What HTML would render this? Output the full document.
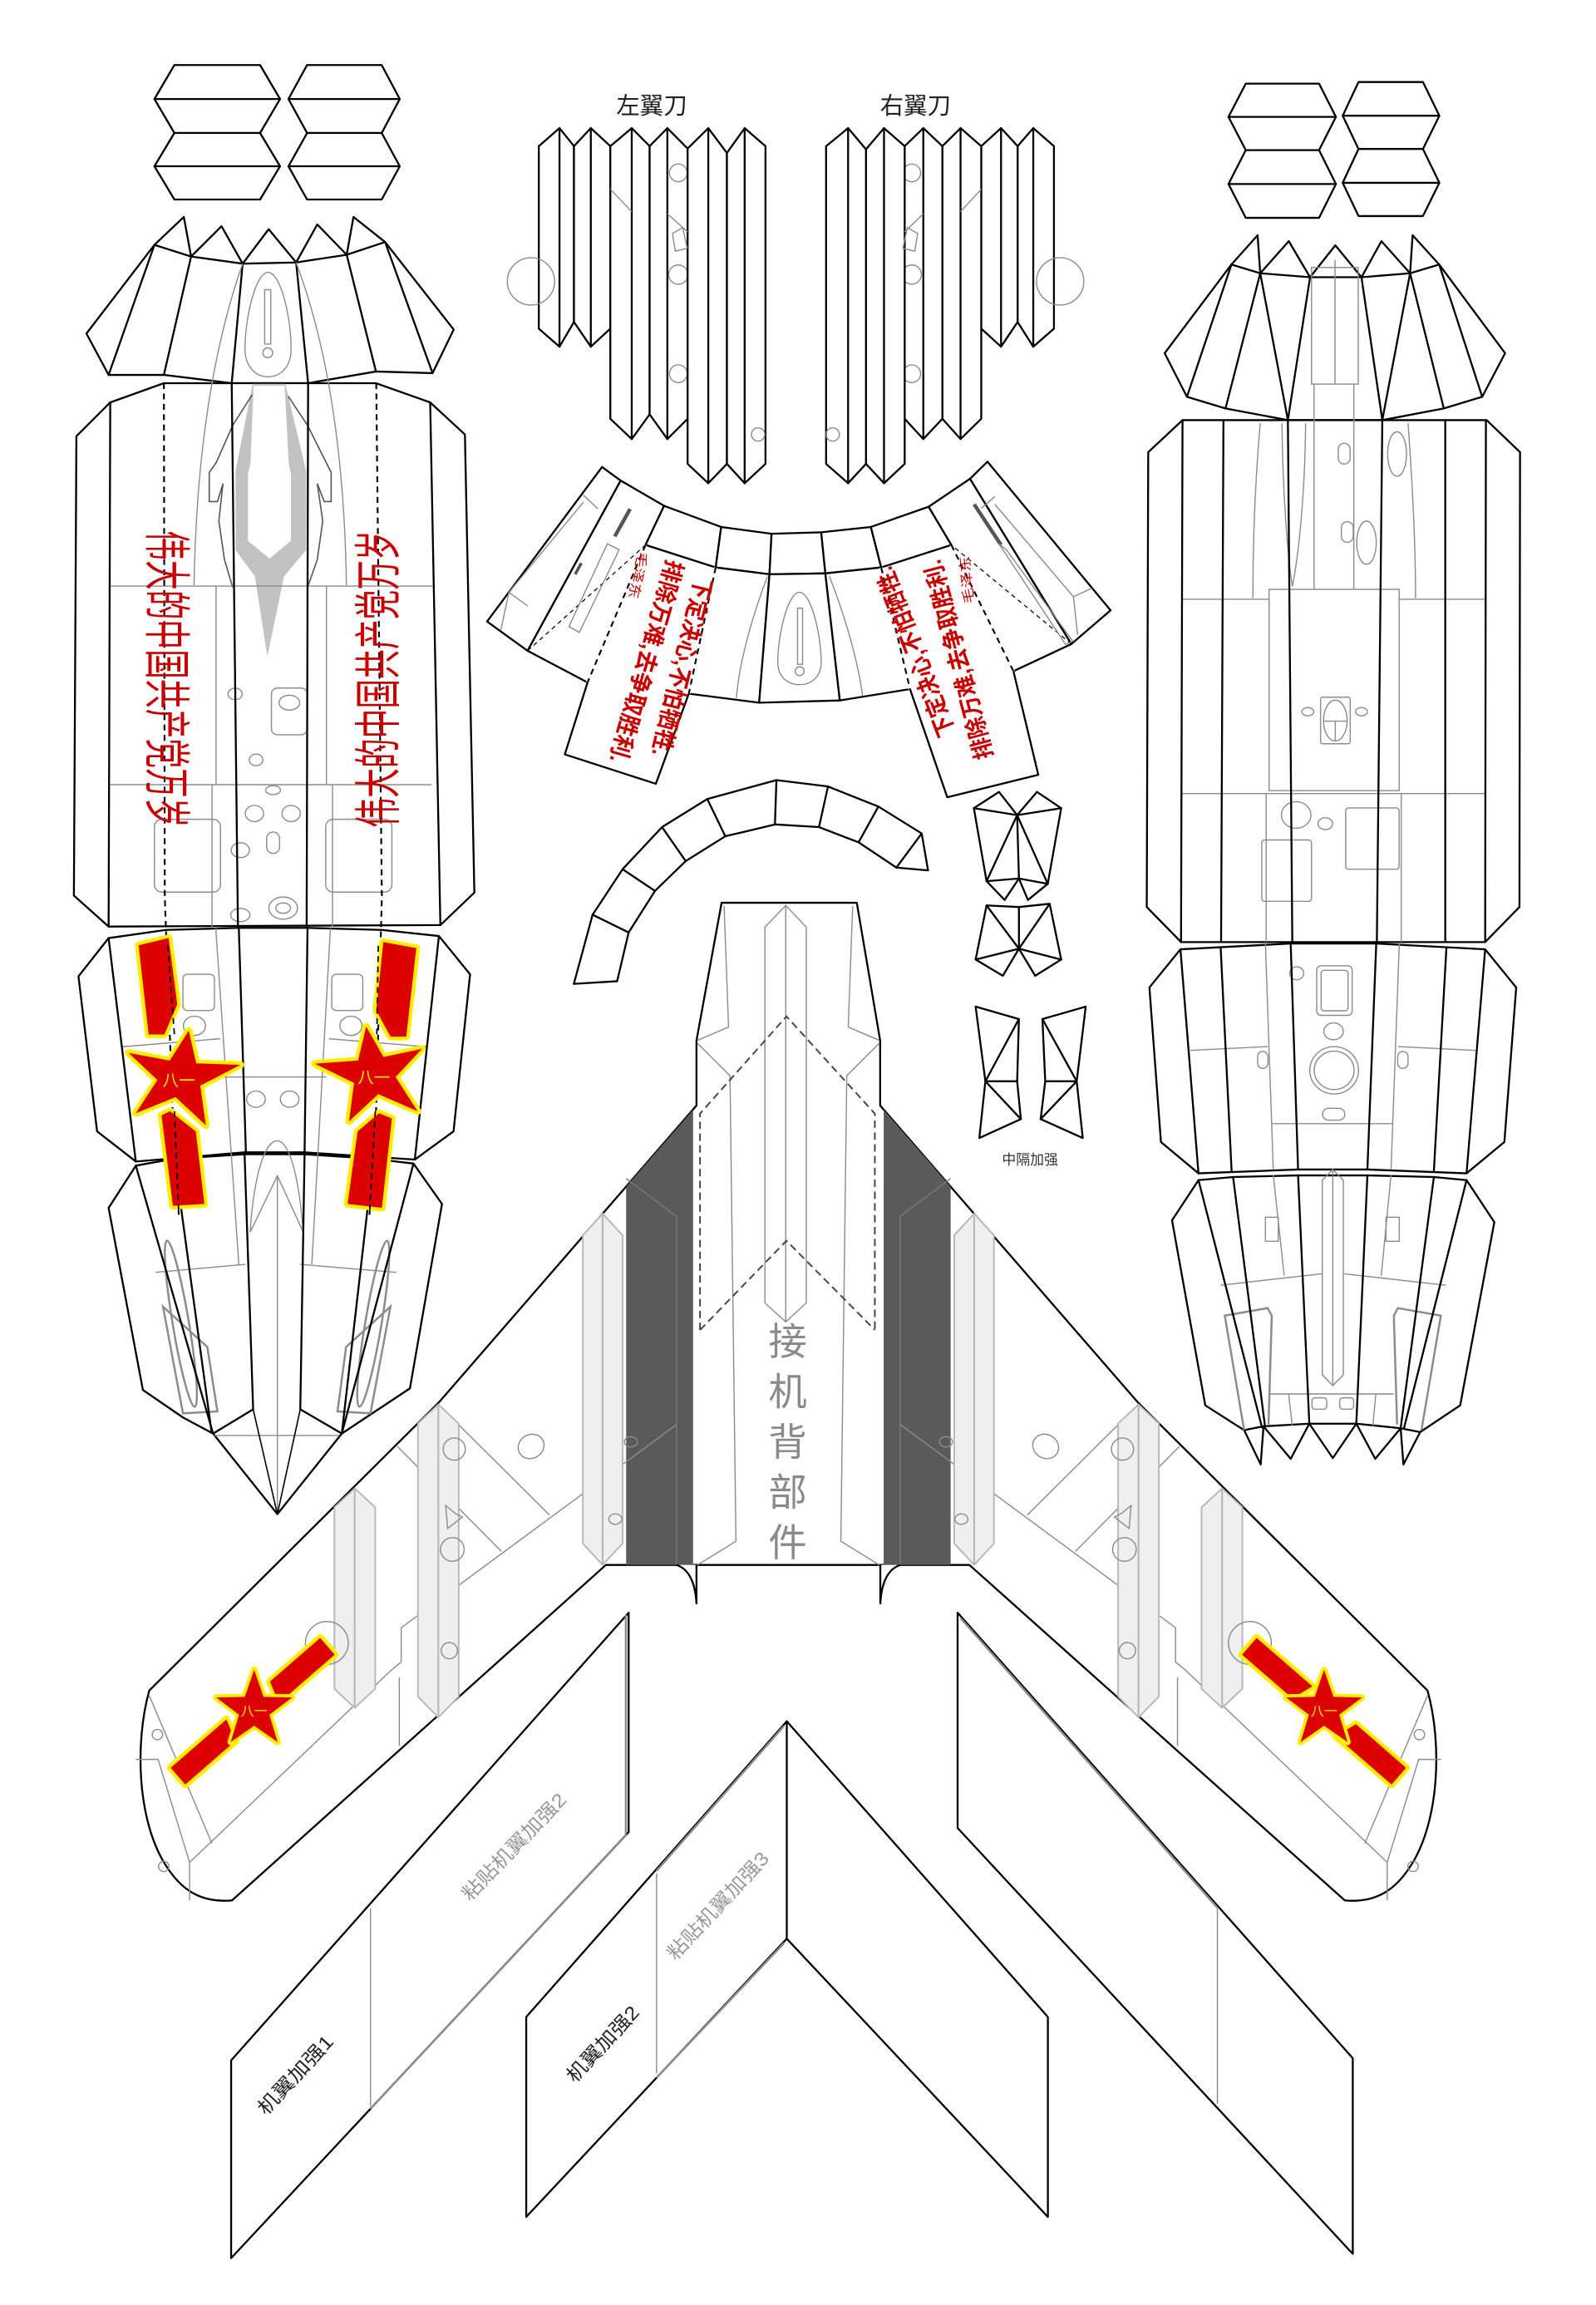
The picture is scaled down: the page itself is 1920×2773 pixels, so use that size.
<!DOCTYPE html>
<html><head><meta charset="utf-8">
<style>
html,body{margin:0;padding:0;background:#fff;width:1920px;height:2773px;overflow:hidden}
svg{display:block}
.k{fill:#fff;stroke:#000;stroke-width:1.3;stroke-linejoin:round}
.l{fill:none;stroke:#000;stroke-width:1.3;stroke-linecap:round}
.t{fill:none;stroke:#000;stroke-width:0.9}
.g{fill:none;stroke:#8c8c8c;stroke-width:0.8}
.g2{fill:none;stroke:#8c8c8c;stroke-width:1.4}
.dg{fill:none;stroke:#555;stroke-width:0.9}
.d{fill:none;stroke:#000;stroke-width:1.2;stroke-dasharray:4 3}
.dt{fill:none;stroke:#000;stroke-width:0.7;stroke-dasharray:3 2.5}
.wl{fill:none;stroke:#fff;stroke-width:2.2}
.ls{fill:#efefef;stroke:#b8b8b8;stroke-width:1.1}
.red{fill:#dd0000;stroke:#ffee00;stroke-width:5;paint-order:stroke;stroke-linejoin:round}
.cn{font-family:"Liberation Sans","Noto Sans CJK SC","WenQuanYi Zen Hei",sans-serif}
.rt{fill:#c80000}
</style></head><body>
<svg width="1920" height="2773" viewBox="0 0 1080 1559.8" xmlns="http://www.w3.org/2000/svg">
<rect x="0" y="0" width="1080" height="1560" fill="#fff"/>

<!-- ===== LEFT FUSELAGE (top view) ===== -->
<g>
<polygon class="k" points="118,44 176,44 189.5,67 176,90 118,90 104.5,67"/>
<line class="l" x1="104.5" y1="67" x2="189.5" y2="67"/>
<polygon class="k" points="118,90 176,90 189.5,112.5 176,135 118,135 104.5,112.5"/>
<line class="l" x1="104.5" y1="112.5" x2="189.5" y2="112.5"/>
<polygon class="k" points="207.8,44 258.3,44 270.5,67 258.3,90 207.8,90 195.2,67"/>
<line class="l" x1="195.2" y1="67" x2="270.5" y2="67"/>
<polygon class="k" points="207.8,90 258.3,90 270.5,112.5 258.3,135 207.8,135 195.2,112.5"/>
<line class="l" x1="195.2" y1="112.5" x2="270.5" y2="112.5"/>
</g>
<polygon class="k" points="58.5,225.7 104.5,165.7 124.4,146.8 129.3,173.6 149.9,153.1 164.2,178.4 181.8,155.1 200.4,177.6 214.7,151.9 234.6,172.4 239.2,146.8 260.6,163.8 307,223 292.7,252.5 254.4,251.4 208.5,259.3 156.8,259.3 110.9,253.7 73.5,253.7"/>
<polyline class="l" points="104.5,165.7 129.3,173.6 164.2,178.4 200.4,177.6 234.6,172.4 260.6,163.8"/>
<path class="l" d="M104.5,165.7L73.5,253.7M129.3,173.6L110.9,253.7M164.2,178.4L156.8,259.3M200.4,177.6L208.5,259.3M234.6,172.4L254.4,251.4M260.6,163.8L292.7,252.5"/>
<polygon class="k" points="74.6,272.3 110.9,259.3 156.8,259.3 208.5,259.3 254.4,259.3 291.1,272.3 314.6,294 321,604 298,626 73.5,627 50,606 51.7,295.2"/>
<path class="g" d="M164.2,178.4C146,230 133,300 131.3,396M200.4,177.6C220,230 233,300 234.4,396"/>
<path class="g" d="M181.4,184.3C190,184.3 197,215 197,236C197,248 190,255 181.4,255C173,255 165.8,248 165.8,236C165.8,215 173,184.3 181.4,184.3Z"/>
<rect class="g" x="179.1" y="196" width="4.1" height="36.8"/>
<circle class="g" cx="181.2" cy="238.7" r="3.3"/>
<polygon fill="#c2c2c2" points="171,259.7 193.1,259.7 207.2,318.75 207.2,372.2 192.2,390 180.9,444.4 172.5,390 159.4,372.2 159.4,318.75"/>
<polygon fill="#fff" points="171.6,261 192.6,261 195.4,313.5 196.9,321 196.9,366 182.3,378 167.8,366 167.8,321 169.5,313.5"/>
<polyline class="dg" points="170.6,267.2 157.5,287.8 146.3,313.1 141.6,319.7 141.6,339.4 147.2,339.4 150.9,327.2 148.1,352.5 151.9,378.75 157.5,397.5"/>
<polyline class="dg" points="195,268.1 208.1,287.8 224.1,319.7 224.1,339.4 219.4,339.4 214.7,327.2 218.4,352.5 214.7,378.75 208.1,397.5"/>
<path class="g" d="M74,396.6H292.7M74.5,531H292M146.2,396.6V531M220.9,396.6V531M143.5,531V627M225,531V627"/>
<ellipse class="g" cx="159.1" cy="469.6" rx="4.8" ry="3.9"/>
<rect class="g" x="183.7" y="465.6" width="24.1" height="31.6" rx="4"/>
<ellipse class="g" cx="195.8" cy="475.5" rx="7" ry="5"/>
<ellipse class="g" cx="173.3" cy="514.2" rx="4.6" ry="3.9"/>
<ellipse class="g" cx="184.8" cy="534.7" rx="5" ry="3"/>
<ellipse class="g" cx="172.2" cy="550.5" rx="6.2" ry="5.5"/>
<ellipse class="g" cx="197" cy="550.5" rx="6.2" ry="5.5"/>
<rect class="g" x="180.4" y="563" width="8.8" height="14.5" rx="4.4"/>
<ellipse class="g" cx="162.6" cy="575.3" rx="6.2" ry="5"/>
<rect class="g" x="104.5" y="554.4" width="44.7" height="49.3" rx="5"/>
<rect class="g" x="220.4" y="554.4" width="44.8" height="49.3" rx="5"/>
<ellipse class="g" cx="162.6" cy="619.2" rx="6.5" ry="4.5"/>
<ellipse class="g" cx="191.6" cy="614.5" rx="9.7" ry="7.5"/>
<ellipse class="g" cx="191.6" cy="614.5" rx="5" ry="3.5"/>
<path class="l" d="M74.6,272.3L73.5,627M156.8,259.3L161,627M208.5,259.3L207.5,627M291.1,272.3L298,626"/>

<polygon class="k" points="73.5,634.8 112.2,629.3 161.6,627.9 208.1,627.9 258.4,629.3 297,633.4 318.1,659.3 306.9,765.6 280.7,784.7 206.1,779.8 165.5,779.8 91.9,786 65.7,765.6 53.1,660.7"/>
<polygon class="k" points="91.9,788.8 118,784.1 165.5,781.1 206.1,781.1 252.6,784.1 279.8,787.4 299.1,814.7 277.4,939.5 231.3,970.1 187.7,1024.6 144.2,970.1 123.8,959.2 96.7,940.6 73.5,817.4"/>
<rect class="g" x="123.8" y="659.3" width="21.3" height="24.5" rx="3"/>
<rect class="g" x="224.5" y="659.3" width="21" height="24.5" rx="3"/>
<ellipse class="g" cx="131.6" cy="694.2" rx="7.5" ry="6.5"/>
<ellipse class="g" cx="237.5" cy="694.2" rx="7.5" ry="6.5"/>
<ellipse class="g" cx="173.2" cy="743.8" rx="6.3" ry="5.5"/>
<ellipse class="g" cx="196" cy="743.8" rx="6.3" ry="5.5"/>
<path class="g" d="M82.2,708.4L149,702.9M222.6,702.9L289.4,708.4M150,728.8H220.7M146,628L161.6,855.6M223.6,628L211,855.6M105.4,861L166,855.6M203,855.6L268.1,861"/>
<path class="g" d="M169.3,833.8C172,792 180,772 187.5,772C195,772 202,792 205.2,833.8"/>
<polyline class="g" points="169.3,833.8 187.7,795.6 205.2,833.8"/>
<path class="g" d="M187.7,795.6V1024.6M145,971.4H229.4"/>
<ellipse class="g2" cx="122.4" cy="895.8" rx="5.5" ry="57" transform="rotate(-9.5 122.4 895.8)"/>
<polygon class="g2" points="110.3,884.2 140.3,911.5 147.1,955.1 123.8,956.4"/>
<ellipse class="g2" cx="252.6" cy="895.8" rx="5.5" ry="57" transform="rotate(9.5 252.6 895.8)"/>
<polygon class="g2" points="264.2,884.2 234.2,911.5 228.4,955.1 250.7,956.4"/>
<path class="l" d="M73.5,634.8L91.9,786M161.6,627.9L166.4,779.8M208.1,627.9L206.1,779.8M297,633.4L280.7,784.7"/>
<path class="l" d="M91.9,788.8L144.2,970.1M118,784.1L143,968M165.5,781.1L171.3,953.7L144.2,970.1M206.1,781.1L203.2,953.7L231.3,970.1M252.6,784.1L231.3,970.1M279.8,787.4L231.3,970.1"/>
<path class="t" d="M171.3,953.7L187.7,1024.6M203.2,953.7L187.7,1024.6"/>
<polyline class="d" points="110.9,259.3 111.5,607 118,784 121,822"/>
<polyline class="d" points="254.6,259.3 258.4,607 253.6,784 250,822"/>
<text class="cn rt" font-size="32" textLength="201" lengthAdjust="spacingAndGlyphs" transform="translate(101.5,359) rotate(90)">伟大的中国共产党万岁</text>
<text class="cn rt" font-size="32" textLength="201" lengthAdjust="spacingAndGlyphs" transform="translate(267.2,560) rotate(-90)">伟大的中国共产党万岁</text>
<polygon class="red" points="93.8,639.7 114.1,634.8 120,679.7 111.2,700 100.6,700"/>
<polygon class="red" points="109.3,754.7 115.1,752 132.5,765.6 138.3,814.7 117,816"/>
<polygon class="red" points="127.7,697.5 132.8,719.6 162.6,720.6 135.5,734.7 139.3,761.5 118.8,742.4 91.9,753.3 106.5,730.8 87,712.5 114.9,717.7"/>
<text class="cn" font-size="11" fill="#ffee00" x="121" y="735" text-anchor="middle">八一</text>
<polygon class="red" points="259.4,637.5 281.7,641.6 274.9,701.5 264.3,701.5 254.6,683.8"/>
<polygon class="red" points="256.5,753.3 265.2,756.9 258.4,817.4 235.2,814.7 242,765.6"/>
<polygon class="red" points="247.8,694.7 259.5,715.3 285.6,709.7 267.7,728.8 282.6,752 256,740.4 236.2,758.8 239.6,732.8 213,719.8 242.3,717.7"/>
<text class="cn" font-size="11" fill="#ffee00" x="253" y="733" text-anchor="middle">八一</text>
<path class="d" d="M113.5,640L118,700M118,752L121,822M256,640L255,700M254,752L250,822" style="stroke-width:1"/>

<!-- ===== WING BLADES ===== -->
<text class="cn" font-size="16" x="441" y="77" text-anchor="middle" fill="#222">左翼刀</text>
<text class="cn" font-size="16" x="619.5" y="77" text-anchor="middle" fill="#222">右翼刀</text>
<g>
<polygon class="k" points="364.6,98.9 378.6,86.7 388.4,98.9 388.4,217.9 378.6,234.6 364.6,222.4"/>
<polygon class="k" points="388.4,98.9 399.8,86.7 413,98.9 413,222.4 399.8,234.6 388.4,217.9"/>
<polygon class="k" points="413,98.9 427.5,86.7 439.6,98.9 439.6,280.4 427.5,297.1 413,283.4"/>
<polygon class="k" points="439.6,98.9 451.6,86.7 465.3,100.5 465.3,283.4 451.6,297.1 439.6,280.4"/>
<circle class="g" cx="459" cy="117" r="6"/>
<circle class="g" cx="459" cy="185.8" r="6.5"/>
<circle class="g" cx="459" cy="252.9" r="6"/>
<polygon class="k" points="465.3,100.5 479.3,86.7 491.9,103.5 491.9,313.9 479.3,327 465.3,313.9"/>
<polygon class="k" points="491.9,103.5 503.9,86.7 518,98.9 518,313.9 503.9,327 491.9,313.9"/>
<path class="l" d="M378.6,86.7V234.6M399.8,86.7V234.6M427.5,86.7V297.1M451.6,86.7V297.1M479.3,86.7V327M503.9,86.7V327"/>
<circle class="g" cx="359.3" cy="190.4" r="16"/>
<circle class="g" cx="513" cy="294" r="4.5"/>
<path class="g" d="M413,128L427.5,143.2M451.6,144.7L465.3,156.9"/>
<polygon class="g" points="455,158 462,154 465,168 457,170"/>
</g>
<g>
<polygon class="k" points="688.6,98.9 699.2,86.7 713.2,98.9 713.2,222.4 699.2,234.6 688.6,217.9"/>
<polygon class="k" points="664,98.9 677.4,86.7 688.6,98.9 688.6,217.9 677.4,234.6 664,222.4"/>
<polygon class="k" points="637.7,98.9 650,86.7 664,98.9 664,283.4 650,297.1 637.7,283.4"/>
<polygon class="k" points="612.2,98.9 624.8,86.7 637.7,98.9 637.7,283.4 624.8,297.1 612.2,283.4"/>
<circle class="g" cx="617" cy="117" r="6"/>
<circle class="g" cx="617" cy="185.8" r="6.5"/>
<circle class="g" cx="617" cy="252.9" r="6"/>
<polygon class="k" points="586,101 598.2,86.7 612.2,98.9 612.2,313.9 598.2,327 586,313.9"/>
<polygon class="k" points="559,98.9 573.9,86.7 586,101 586,313.9 573.9,327 559,313.9"/>
<path class="l" d="M573.9,86.7V327M598.2,86.7V327M624.8,86.7V297.1M650,86.7V297.1M677.4,86.7V234.6M699.2,86.7V234.6"/>
<circle class="g" cx="717.4" cy="190.4" r="16"/>
<circle class="g" cx="563.5" cy="294" r="4.5"/>
<path class="g" d="M664,128L650,143.2M624.8,144.7L612.2,156.9"/>
<polygon class="g" points="621,158 614,154 611,168 619,170"/>
</g>

<!-- ===== CANOPY ARCH PIECE ===== -->
<g>
<polygon class="k" points="329.6,420.6 407.4,316 420,325.2 357,440.4"/>
<polygon class="k" points="357,440.4 420,325.2 449.4,342.3 436.8,368.8 397.6,461.8"/>
<polygon class="k" points="449.4,342.3 488,356.6 484.3,384 436.8,368.8"/>
<polygon class="k" points="488,356.6 522.1,361.2 520.7,388.6 484.3,384"/>
<polygon class="k" points="522.1,361.2 555.7,360.2 558.5,388 520.7,388.6"/>
<polygon class="k" points="555.7,360.2 589.3,356.6 596.3,384 558.5,388"/>
<polygon class="k" points="589.3,356.6 628.4,342.9 643.8,368.8 596.3,384"/>
<polygon class="k" points="628.4,342.9 656.4,324 725,435.8 685.8,454.2 643.8,368.8"/>
<polygon class="k" points="656.4,324 668.2,312.4 751.5,413 725,435.8"/>
<polygon class="k" points="436.8,368.8 484.3,384 466.1,469.4 443.8,530.4 382.2,510.5 397.6,461.8"/>
<polygon class="k" points="484.3,384 520.7,388.6 513.7,475.5 466.1,469.4"/>
<polygon class="k" points="520.7,388.6 558.5,388 568.3,474 513.7,475.5"/>
<polygon class="k" points="558.5,388 596.3,384 615.8,466.3 568.3,474"/>
<polygon class="k" points="596.3,384 643.8,368.8 685.8,454.2 702.6,524.3 641,539.5 615.8,466.3"/>
<path class="wl" d="M436.8,368.8L397.6,461.8M484.3,384L466.1,469.4M643.8,368.8L685.8,454.2M596.3,384L615.8,466.3"/>
<path class="d" d="M436.8,368.8L397.6,461.8M484.3,384L466.1,469.4M643.8,368.8L685.8,454.2M596.3,384L615.8,466.3"/>
<path class="dt" d="M357,440.4L436.8,368.8M725,435.8L643.8,368.8"/>
<path class="g" d="M394.8,339.8L344.4,400.8L338.8,426.7M344.4,400.8L357,410M394.8,335L404.6,344.4"/>
<path class="g" d="M673.2,341.3L726.4,403.8L729.2,429.7M726.4,403.8L739,398M673.2,336L664,344"/>
<line x1="426.4" y1="344.4" x2="416" y2="363" stroke="#555" stroke-width="2.5"/>
<polygon class="g" points="411,368 419,372 392,428 385,424"/>
<line x1="393.4" y1="381" x2="389.2" y2="388.6" stroke="#555" stroke-width="2"/>
<line x1="659.2" y1="341.3" x2="677.4" y2="368.8" stroke="#555" stroke-width="2.5"/>
<polygon class="g" points="676,368 681,372 726,434 721,436"/>
<path class="g" d="M541,400.8C549,400.8 555.7,430 555.7,448C555.7,458 549,463.3 541,463.3C533,463.3 526.3,458 526.3,448C526.3,430 533,400.8 541,400.8Z"/>
<rect class="g" x="539.7" y="411.5" width="3.4" height="38"/>
<circle class="g" cx="541.1" cy="454.2" r="3"/>
<path class="g" d="M519.3,390.1C508,420 500,450 498.3,472.4M561.3,390.1C573,420 581,450 583.7,470.9"/>
<text class="cn rt" font-size="16" font-weight="bold" textLength="124" lengthAdjust="spacingAndGlyphs" transform="translate(471,390) rotate(104)">下定决心,不怕牺牲.</text>
<text class="cn rt" font-size="16" font-weight="bold" textLength="142" lengthAdjust="spacingAndGlyphs" transform="translate(451.5,378) rotate(106)">排除万难,去争取胜利.</text>
<text class="cn rt" font-size="9" textLength="32" lengthAdjust="spacingAndGlyphs" transform="translate(432,373) rotate(102)">毛泽东</text>
<text class="cn rt" font-size="16" font-weight="bold" textLength="122" lengthAdjust="spacingAndGlyphs" transform="translate(646.5,496) rotate(-111)">下定决心,不怕牺牲.</text>
<text class="cn rt" font-size="16" font-weight="bold" textLength="139" lengthAdjust="spacingAndGlyphs" transform="translate(672,512) rotate(-105)">排除万难,去争取胜利.</text>
<text class="cn rt" font-size="9" textLength="32" lengthAdjust="spacingAndGlyphs" transform="translate(659,408) rotate(-96)">毛泽东</text>
</g>

<!-- ===== ARC STRIP ===== -->
<polygon class="k" points="388.3,665.8 401,619 421.3,588.2 448,559.7 478.6,540.7 525.4,527.9 560.3,532.2 594.4,545.8 623.7,564 628,589 606.6,587.1 581,570 554.2,559.7 524.4,557.9 490.8,565.9 464,582.7 443.2,602.9 425.4,631 417.6,664"/>
<path class="l" d="M401,619L425.4,631M421.3,588.2L443.2,602.9M448,559.7L464,582.7M478.6,540.7L490.8,565.9M525.4,527.9L524.4,557.9M560.3,532.2L554.2,559.7M594.4,545.8L581,570M623.7,564L606.6,587.1"/>

<!-- ===== SMALL TRIANGLE PIECES ===== -->
<polygon class="k" points="659,546.9 676,535.9 688.3,551.6 701.7,535.9 718.1,546.9 709,598.1 695.6,609 689.5,594.5 679.8,609 667.6,596.3"/>
<path class="l" d="M659,546.9L688.3,551.6L718.1,546.9M688.3,551.6L689.5,594.5M688.3,551.6L667.6,596.3M688.3,551.6L709,598.1M667.6,596.3L689.5,594.5L709,598.1"/>
<polygon class="k" points="667.6,612.7 689.5,613.8 710.3,611.6 718.1,649.3 700.5,660.3 689.5,642 678.6,660.3 660.2,649.3"/>
<path class="l" d="M667.6,612.7L689.5,642L710.3,611.6M660.2,649.3L689.5,642L718.1,649.3M689.5,613.8L689.5,642"/>
<polygon class="k" points="660.2,681.2 689.5,689.6 688.3,731.7 690.8,757.3 662.7,770.1 666.8,731.7"/>
<path class="l" d="M666.8,731.7L689.5,689.6M666.8,731.7L688.3,731.7M666.8,731.7L690.8,757.3"/>
<polygon class="k" points="705.4,689.6 734.7,681.2 728.6,731.7 732.7,770.1 704.2,757.3 707.3,731.7"/>
<path class="l" d="M728.6,731.7L705.4,689.6M728.6,731.7L707.3,731.7M728.6,731.7L704.2,757.3"/>
<text class="cn" font-size="9.5" x="697" y="788" text-anchor="middle" fill="#333">中隔加强</text>

<!-- ===== RIGHT FUSELAGE (bottom view) ===== -->
<g>
<polygon class="k" points="843,56.6 892.6,56.6 904,79.1 892.6,101.6 843,101.6 831.3,79.1"/>
<line class="l" x1="831.3" y1="79.1" x2="904" y2="79.1"/>
<polygon class="k" points="843,101.6 892.6,101.6 904,124.5 892.6,147.4 843,147.4 831.3,124.5"/>
<line class="l" x1="831.3" y1="124.5" x2="904" y2="124.5"/>
<polygon class="k" points="919.3,55.5 962.9,55.5 974,78.3 962.9,100.8 919.3,100.8 908.6,78.3"/>
<line class="l" x1="908.6" y1="78.3" x2="974" y2="78.3"/>
<polygon class="k" points="919.3,100.8 962.9,100.8 974,123.7 962.9,146.2 919.3,146.2 908.6,123.7"/>
<line class="l" x1="908.6" y1="123.7" x2="974" y2="123.7"/>
</g>
<polygon class="k" points="788.1,239 833.3,179 851,159.2 852.8,184.9 872.1,163.2 886.5,187.6 903.6,166 921.3,187.6 934.8,163.2 954.2,184.9 955.9,159.2 973.9,179 1018.5,239 1003,268.5 977,276.4 935.4,284.3 871.5,284.3 829.3,276.4 803.2,268.5"/>
<polyline class="l" points="833.3,179 852.8,184.9 886.5,187.6 921.3,187.6 954.2,184.9 973.9,179"/>
<path class="l" d="M833.3,179L803.2,268.5M852.8,184.9L829.3,276.4M852.8,184.9L871.5,284.3M886.5,187.6L871.5,284.3M921.3,187.6L935.4,284.3M954.2,184.9L935.4,284.3M954.2,184.9L977,276.4M973.9,179L1003,268.5"/>
<polygon class="k" points="800.2,284.3 1006,284.3 1028.6,306 1028.2,613.8 1005,637.5 799.2,637.5 776,613.8 777,306"/>
<rect class="g" x="887.5" y="181" width="31.6" height="78.9"/>
<path class="g" d="M903.4,176V259.9M889.2,259.9V398.8M916.1,259.9V398.8"/>
<path class="g" d="M852.8,286.3C849,330 847.8,370 847.8,404.7M952.8,286.3C956,330 957.9,370 957.9,404.7"/>
<path class="g" d="M867.5,286.3C868,340 872,380 874.5,396.8C878,380 883,340 883.5,286.3"/>
<rect class="g" x="905.6" y="300" width="8" height="14" rx="4"/>
<ellipse class="g" cx="945.4" cy="307.2" rx="6.4" ry="15"/>
<rect class="g" x="907.7" y="353" width="8" height="14" rx="4"/>
<ellipse class="g" cx="924.7" cy="367.2" rx="6.6" ry="14.6"/>
<path class="g" d="M800,405.5H858.8M946.8,405.5H1005.5M800,537H1005M856.8,537V637.5M948.2,537V637.5"/>
<rect class="g" x="858.8" y="398.8" width="88" height="136.2"/>
<rect class="g" x="893.6" y="471.8" width="20.1" height="31.5" rx="1.5"/>
<ellipse class="g" cx="903.6" cy="487.6" rx="8" ry="13.8"/>
<path class="g" d="M895.6,488H911.6M903.6,488V501"/>
<ellipse class="g" cx="885" cy="481.6" rx="4" ry="2.8"/>
<ellipse class="g" cx="921.3" cy="481.6" rx="4" ry="2.8"/>
<ellipse class="g" cx="877.1" cy="551.5" rx="10" ry="9"/>
<ellipse class="g" cx="896.8" cy="557.4" rx="5" ry="4"/>
<rect class="g" x="910.6" y="546.7" width="36.2" height="41.5" rx="2"/>
<rect class="g" x="853.8" y="568.4" width="33.7" height="41.5" rx="2"/>
<path class="l" d="M800.2,284.3L799.2,637.5M827.9,284.3L826.3,637.5M871.5,284.3L874.5,637.5M935.4,284.3L931.7,637.5M978,284.3L978,637.5M1005.5,284.3L1005,637.5"/>
<polygon class="k" points="798.8,642.4 873.4,638.5 931.3,638.5 1005,642.4 1026,668.2 1018,772.8 992.4,794 925.3,791.4 878.4,791.4 811,794 785.6,772.8 777.8,668.2"/>
<rect class="g" x="891" y="653.5" width="24" height="33.6" rx="3"/>
<rect class="g" x="894" y="656.6" width="18.2" height="27.4" rx="2"/>
<ellipse class="g" cx="902.4" cy="697.9" rx="6.6" ry="5.7"/>
<ellipse class="g" cx="902.8" cy="724.3" rx="16.5" ry="16"/>
<ellipse class="g" cx="902.8" cy="724.3" rx="13.5" ry="13"/>
<rect class="g" x="895" y="750" width="15" height="8" rx="4"/>
<ellipse class="g" cx="877.5" cy="658.6" rx="4.7" ry="4.4"/>
<rect class="g" x="851" y="711.5" width="7" height="11.5" rx="3.5"/>
<rect class="g" x="945.8" y="711.5" width="7" height="11.5" rx="3.5"/>
<path class="g" d="M805.3,710.8L857.8,708.2M946,708.2L998.4,710.8M860.6,760.4H942.2M856.3,638.5L861.6,791.4M946.9,638.5L941.3,791.4"/>
<path class="l" d="M798.8,642.4L811,794M826,641L833.4,792.2M873.4,638.5L878.4,791.4M931.3,638.5L925.3,791.4M978.8,641L970.3,792.2M1005,642.4L992.4,794"/>
<polygon class="k" points="811,798.6 834.4,796.5 878.4,795.4 925.3,795.4 970.3,796.5 992.4,798.6 1011.2,827 988.1,951 961,969.1 949.7,991 947.8,966.5 930.6,987.2 917.8,963.4 901.9,986.7 886,963.4 873.4,987.2 855,965.2 853.1,991 841.9,967.8 815.6,951 793.1,825.8"/>
<polyline class="l" points="841.9,967.8 855,965.2 886,963.4 917.8,963.4 947.8,966.5 961,969.1"/>
<polygon class="g" points="894.8,798.6 901.9,791.4 909,798.6 909,930.4 901.9,937.6 894.8,930.4"/>
<path class="g" d="M901.9,791.4V937.6M826,869.7L894.4,862M909.5,862L978.4,869.7M861.6,795L869,863.2M941.3,795L934.7,863.2M859.7,943.3H943.1M872,943.3L874.5,965M931,943.3L929,965"/>
<rect class="g" x="856.3" y="823.7" width="8.7" height="16.3"/>
<rect class="g" x="937.9" y="823.7" width="9" height="16.3"/>
<rect class="g" x="887.8" y="945.9" width="10" height="7.7" rx="2"/>
<rect class="g" x="906.6" y="945.9" width="9.4" height="7.7" rx="2"/>
<polyline class="g2" points="841.9,967.8 828.8,890.3 857.8,885.2 860.6,890.3 858.4,964"/>
<polyline class="g2" points="961.9,967.8 975,890.3 946,885.2 943.2,890.3 945.4,964"/>
<path class="l" d="M811,798.6L854,966M834.4,796.5L856,965M878.4,795.4L886,963.4M925.3,795.4L917.8,963.4M970.3,796.5L947.8,966.5M992.4,798.6L950,966.7"/>

<!-- ===== MAIN WING ===== -->
<path class="k" d="M488.3,610.9L579.8,610.9L595.6,704.2L595.6,748.1L770,949L966,1144C976,1180 974,1232 955,1262C945,1278 932,1288 910,1286L656,1059L410,1059L157,1286C135,1288 122,1278 112,1262C93,1232 91,1180 101,1144L297,949L471.3,748.1L471.3,704.2Z"/>
<g id="lw">
<polygon fill="#5a5a5a" points="423.7,803 469,751 469,1059 423.7,1059"/>
<path d="M423.7,797.5L457.8,823V1059" fill="none" stroke="#7a7a7a" stroke-width="0.8"/>
<path class="k" d="M457.8,1059Q470,1063 471.3,1085L471.3,1059"/>
<path class="g" d="M490,613L493,695L472,704M472,706L494,728L498,1043L472,1059"/>
<polyline class="g" points="457.8,964 271.5,1101.5 271.5,1124.7 265,1130 128.3,1260.3 128.3,1286"/>
<path class="g" d="M268.9,978.8L339.3,1049.8M296.6,950.4L371.9,1025.3M100.7,1146.7L143.4,1247.4M91.9,1190.6H107L128.3,1260.3M270.2,1135V1181.6"/>
<polygon class="ls" points="394.4,835.9 407.8,821.3 421.3,835.9 421.3,1044.5 407.8,1059 394.4,1044.5"/>
<line x1="407.8" y1="821.3" x2="407.8" y2="1059" stroke="#b8b8b8" stroke-width="1.2"/>
<polygon class="ls" points="226.3,1020 240,1007.2 253.9,1020 253.9,1142.8 240,1155.7 226.3,1142.8"/>
<line x1="240" y1="1007.2" x2="240" y2="1155.7" stroke="#b8b8b8" stroke-width="1.2"/>
<polygon class="ls" points="282.8,963.3 296.6,950.4 310.4,963.3 310.4,1148 296.6,1162.2 282.8,1148"/>
<line x1="296.6" y1="950.4" x2="296.6" y2="1162.2" stroke="#b8b8b8" stroke-width="1.2"/>
<circle class="g" cx="307.4" cy="980.6" r="7.5"/>
<circle class="g" cx="306.1" cy="1048.5" r="8"/>
<circle class="g" cx="304.1" cy="1117" r="5.5"/>
<circle class="g" cx="221.2" cy="1111.8" r="14.5"/>
<circle class="g" cx="106.5" cy="1173.8" r="3.5"/>
<circle class="g" cx="110.8" cy="1263" r="3.5"/>
<ellipse class="g" cx="359.4" cy="978.8" rx="9" ry="8" transform="rotate(-30 359.4 978.8)"/>
<ellipse class="g" cx="426.9" cy="975.7" rx="4.4" ry="3.5"/>
<ellipse class="g" cx="416.4" cy="1028" rx="4.4" ry="3.5"/>
<polygon class="g" points="301.6,1018.8 307.9,1024 312.9,1026.6 302.9,1034.3"/>
</g>
<use href="#lw" transform="matrix(-1,0,0,1,1067,0)"/>
<polygon class="g" points="517.6,627.4 531.7,612.7 545.6,627.4 545.6,881.7 531.7,894.5 517.6,881.7"/>
<line class="g" x1="531.7" y1="612.7" x2="531.7" y2="894.5"/>
<path d="M473.7,900L473.7,753.6L532.2,687.8L592,753.6L592,900M473.7,900L532.2,839.6L592,900" fill="none" stroke="#444" stroke-width="1.1" stroke-dasharray="5 3"/>
<g class="cn" font-size="26" fill="#8a8a8a" text-anchor="middle">
<text x="533" y="917">接</text>
<text x="533" y="951">机</text>
<text x="533" y="985">背</text>
<text x="533" y="1019">部</text>
<text x="533" y="1053">件</text>
</g>
<g transform="translate(171,1158) rotate(-41)">
<polygon class="red" points="22,-7.5 67,-7.5 67,7.5 17,7.5"/>
<polygon class="red" points="-67,-7.5 -17,-7.5 -22,7.5 -67,7.5"/>
</g>
<polygon class="red" transform="translate(172,1157) scale(27)" style="stroke-width:0.16" points="0,-1 0.235,-0.324 0.951,-0.309 0.38,0.124 0.588,0.809 0,0.4 -0.588,0.809 -0.38,0.124 -0.951,-0.309 -0.235,-0.324"/>
<text class="cn" font-size="9" fill="#ffee00" x="172" y="1161" text-anchor="middle">八一</text>
<g transform="translate(896,1158) rotate(41)">
<polygon class="red" points="22,-7.5 67,-7.5 67,7.5 17,7.5"/>
<polygon class="red" points="-67,-7.5 -17,-7.5 -22,7.5 -67,7.5"/>
</g>
<polygon class="red" transform="translate(896,1157) scale(27)" style="stroke-width:0.16" points="0,-1 0.235,-0.324 0.951,-0.309 0.38,0.124 0.588,0.809 0,0.4 -0.588,0.809 -0.38,0.124 -0.951,-0.309 -0.235,-0.324"/>
<text class="cn" font-size="9" fill="#ffee00" x="896" y="1161" text-anchor="middle">八一</text>

<!-- ===== BOTTOM REINFORCEMENT PIECES ===== -->
<polygon class="k" points="156.4,1394.3 425.4,1091.3 425.4,1239.8 156.4,1528.1"/>
<path class="g2" d="M423.5,1093V1242L250.7,1427"/>
<line class="g" x1="250.7" y1="1291.3" x2="250.7" y2="1425.2"/>
<text class="cn" font-size="13" fill="#222" textLength="68" lengthAdjust="spacingAndGlyphs" transform="translate(180,1432) rotate(-47)">机翼加强1</text>
<text class="cn" font-size="13" fill="#999" textLength="95" lengthAdjust="spacingAndGlyphs" transform="translate(318,1287) rotate(-46)">粘贴机翼加强2</text>
<polygon class="k" points="356.1,1364.9 532.4,1164.8 709.1,1364.9 709.1,1500.2 532.4,1311.9 356.1,1500.2"/>
<path class="g2" d="M530.5,1168L444.3,1266M530.5,1315L444.3,1406"/>
<line class="l" x1="532.4" y1="1164.8" x2="532.4" y2="1311.9"/>
<line class="g" x1="444.3" y1="1267.8" x2="444.3" y2="1403.1"/>
<text class="cn" font-size="13" fill="#222" textLength="65" lengthAdjust="spacingAndGlyphs" transform="translate(389,1410) rotate(-47)">机翼加强2</text>
<text class="cn" font-size="13" fill="#999" textLength="94" lengthAdjust="spacingAndGlyphs" transform="translate(457,1327) rotate(-47)">粘贴机翼加强3</text>
<polygon class="k" points="648,1091.3 915.4,1392.8 915.4,1525.2 648,1237"/>
<path class="g2" d="M650,1095L823.8,1291"/>
<line class="g" x1="823.8" y1="1291.3" x2="823.8" y2="1423.7"/>
</svg>
</body></html>
